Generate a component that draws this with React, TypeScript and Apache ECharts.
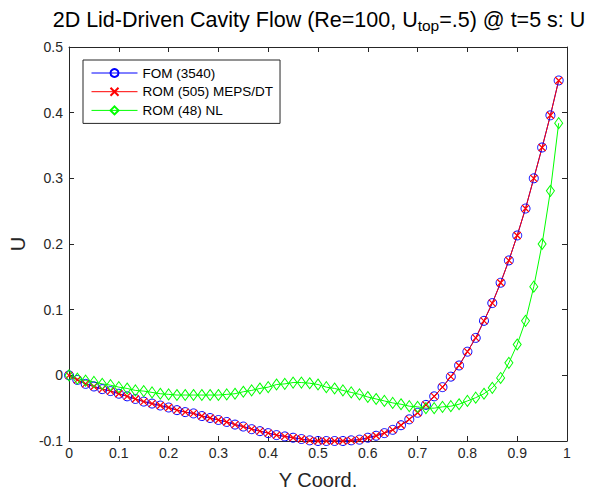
import React, { useEffect, useRef } from "react";
import * as echarts from "echarts";

const yCoord = [
  0, 0.0167, 0.0333, 0.05, 0.0667, 0.0833, 0.1, 0.1167, 0.1333, 0.15,
  0.1667, 0.1833, 0.2, 0.2167, 0.2333, 0.25, 0.2667, 0.2833, 0.3, 0.3167,
  0.3333, 0.35, 0.3667, 0.3833, 0.4, 0.4167, 0.4333, 0.45, 0.4667, 0.4833,
  0.5, 0.5167, 0.5333, 0.55, 0.5667, 0.5833, 0.6, 0.6167, 0.6333, 0.65,
  0.6667, 0.6833, 0.7, 0.7167, 0.7333, 0.75, 0.7667, 0.7833, 0.8, 0.8167,
  0.8333, 0.85, 0.8667, 0.8833, 0.9, 0.9167, 0.9333, 0.95, 0.9667, 0.9833,
];

const fom3540 = [
  0, -0.007, -0.013, -0.017, -0.021, -0.024, -0.028, -0.032, -0.036, -0.04,
  -0.043, -0.046, -0.049, -0.053, -0.056, -0.058, -0.062, -0.065, -0.068, -0.071,
  -0.075, -0.078, -0.082, -0.085, -0.088, -0.091, -0.093, -0.095, -0.097, -0.099,
  -0.1, -0.1, -0.1, -0.1, -0.099, -0.098, -0.095, -0.092, -0.088, -0.083,
  -0.076, -0.067, -0.057, -0.045, -0.032, -0.018, -0.002, 0.015, 0.036, 0.057,
  0.083, 0.11, 0.141, 0.175, 0.213, 0.254, 0.3, 0.347, 0.396, 0.449,
];

const rom505 = [
  0, -0.007, -0.013, -0.017, -0.021, -0.024, -0.028, -0.032, -0.036, -0.04,
  -0.043, -0.046, -0.049, -0.053, -0.056, -0.058, -0.062, -0.065, -0.068, -0.071,
  -0.075, -0.078, -0.082, -0.085, -0.088, -0.091, -0.093, -0.095, -0.097, -0.099,
  -0.1, -0.1, -0.1, -0.1, -0.099, -0.098, -0.095, -0.092, -0.088, -0.083,
  -0.076, -0.067, -0.057, -0.045, -0.032, -0.018, -0.002, 0.015, 0.036, 0.057,
  0.083, 0.11, 0.141, 0.175, 0.213, 0.254, 0.3, 0.347, 0.396, 0.449,
];

const rom48 = [
  0, -0.005, -0.008, -0.01, -0.013, -0.015, -0.018, -0.02, -0.023, -0.024,
  -0.026, -0.028, -0.029, -0.03, -0.03, -0.03, -0.03, -0.03, -0.03, -0.029,
  -0.028, -0.025, -0.023, -0.02, -0.018, -0.014, -0.013, -0.011, -0.011, -0.012,
  -0.014, -0.018, -0.02, -0.023, -0.026, -0.029, -0.033, -0.036, -0.039, -0.042,
  -0.044, -0.047, -0.048, -0.05, -0.05, -0.048, -0.047, -0.044, -0.039, -0.034,
  -0.028, -0.019, -0.004, 0.019, 0.047, 0.083, 0.135, 0.2, 0.281, 0.384,
];

const seriesNames = ["FOM (3540)", "ROM (505) MEPS/DT", "ROM (48) NL"];

const FONT = "Liberation Sans, Arial, Helvetica, sans-serif";
const AX = "#262626";

function pairs(xs: number[], ys: number[]) {
  return xs.map((x, i) => [x, ys[i]]);
}

export default function App() {
  const ref = useRef<HTMLDivElement>(null);
  useEffect(() => {
    if (!ref.current) return;
    const chart = echarts.init(ref.current, undefined, { renderer: "svg" });
    const axisCommon = {
      axisLine: { show: true, onZero: false, lineStyle: { color: AX, width: 1 } },
      axisTick: { show: true, inside: true, length: 5, lineStyle: { color: AX, width: 1 } },
      splitLine: { show: false },
    };
    chart.setOption({
      animation: false,
      backgroundColor: "#ffffff",
      textStyle: { fontFamily: FONT },
      title: {
        left: 314,
        top: 2,
        textAlign: "center",
        text: "{m|2D Lid-Driven Cavity Flow (Re=100, U}{s|top}{m|=.5) @ t=5 s: U}",
        textStyle: {
          fontFamily: FONT,
          fontWeight: "normal",
          rich: {
            m: { fontSize: 21.5, lineHeight: 25, color: "#000", fontFamily: FONT, fontWeight: "normal" },
            s: { fontSize: 15.5, lineHeight: 15, padding: [11, 0, 0, 0], color: "#000", fontFamily: FONT, fontWeight: "normal" },
          },
        },
      },
      legend: {
        orient: "vertical",
        left: 83,
        top: 60,
        padding: [6, 7, 6, 8],
        itemWidth: 46,
        itemHeight: 10,
        itemGap: 4.7,
        backgroundColor: "#ffffff",
        borderColor: AX,
        borderWidth: 1,
        borderRadius: 0,
        data: seriesNames,
        lineStyle: { width: 1 },
        textStyle: { fontSize: 13.5, color: "#000", fontFamily: FONT, lineHeight: 14 },
      },
      grid: { left: 67, right: 23, top: 47, bottom: 56, containLabel: false },
      xAxis: [
        {
          type: "value",
          min: 0,
          max: 1,
          interval: 0.1,
          position: "bottom",
          name: "Y Coord.",
          nameLocation: "middle",
          nameGap: 29,
          nameTextStyle: { fontSize: 20, color: AX, fontFamily: FONT },
          axisLabel: { fontSize: 14, color: AX, margin: 5, fontFamily: FONT },
          ...axisCommon,
        },
        {
          type: "value",
          min: 0,
          max: 1,
          interval: 0.1,
          position: "top",
          axisLabel: { show: false },
          ...axisCommon,
        },
      ],
      yAxis: [
        {
          type: "value",
          min: -0.1,
          max: 0.5,
          interval: 0.1,
          position: "left",
          name: "U",
          nameLocation: "middle",
          nameGap: 40,
          nameTextStyle: { fontSize: 20, color: AX, fontFamily: FONT },
          axisLabel: { fontSize: 14, color: AX, margin: 6, fontFamily: FONT },
          ...axisCommon,
        },
        {
          type: "value",
          min: -0.1,
          max: 0.5,
          interval: 0.1,
          position: "right",
          axisLabel: { show: false },
          ...axisCommon,
        },
      ],
      series: [
        {
          name: seriesNames[0],
          type: "line",
          data: pairs(yCoord, fom3540),
          symbol: "circle",
          symbolSize: 9,
          lineStyle: { color: "#0000ff", width: 1 },
          itemStyle: { color: "none", borderColor: "#0000ff", borderWidth: 1 },
          emphasis: { disabled: true },
        },
        {
          name: seriesNames[1],
          type: "line",
          data: pairs(yCoord, rom505),
          symbol: "path://M0,0L10,10M10,0L0,10",
          symbolSize: 7,
          lineStyle: { color: "#ff0000", width: 1 },
          itemStyle: { color: "none", borderColor: "#ff0000", borderWidth: 1.2 },
          emphasis: { disabled: true },
        },
        {
          name: seriesNames[2],
          type: "line",
          data: pairs(yCoord, rom48),
          symbol: "diamond",
          symbolSize: [8, 11],
          lineStyle: { color: "#00ff00", width: 1 },
          itemStyle: { color: "none", borderColor: "#00ff00", borderWidth: 1 },
          emphasis: { disabled: true },
        },
      ],
    });
    return () => chart.dispose();
  }, []);
  return (
    <div
      ref={ref}
      style={{ position: "fixed", left: 0, top: 0, width: 590, height: 497 }}
    />
  );
}
